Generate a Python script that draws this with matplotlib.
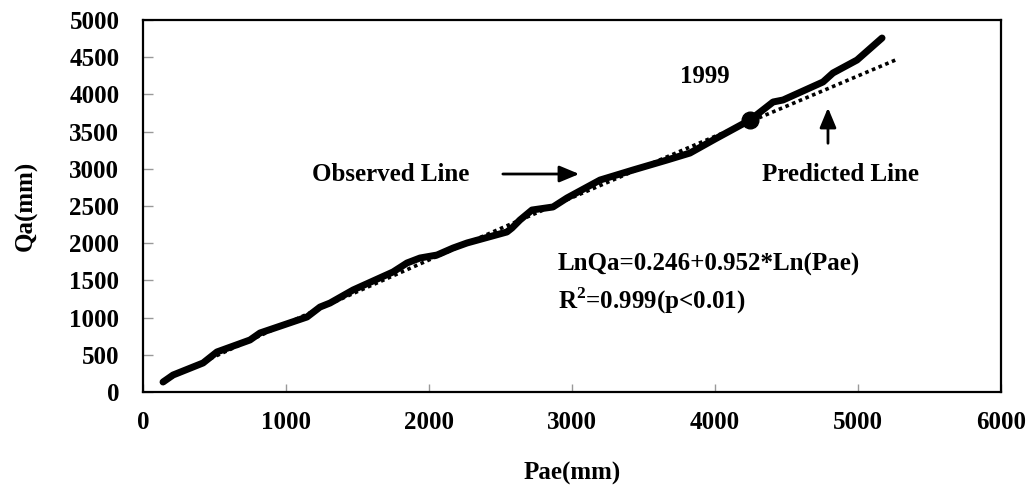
import numpy as np
import matplotlib
matplotlib.use("Agg")
import matplotlib.pyplot as plt

plt.rcParams['font.family'] = ['Liberation Serif', 'DejaVu Serif']
plt.rcParams['font.weight'] = 'bold'
plt.rcParams['mathtext.fontset'] = 'custom'
plt.rcParams['mathtext.rm'] = 'Liberation Serif:bold'
plt.rcParams['mathtext.bf'] = 'Liberation Serif:bold'

# observed line
pae_obs = [140, 210, 420, 517, 748, 818, 1147, 1238, 1308, 1469, 1748, 1846, 1937,
           2056, 2168, 2266, 2545, 2580, 2636, 2720, 2867, 2965, 3196, 3427, 3664,
           3825, 4000, 4245, 4406, 4476, 4755, 4825, 4993, 5168]
qa_obs = [134, 228, 390, 538, 699, 793, 1008, 1142, 1196, 1371, 1613, 1734, 1801,
          1841, 1935, 2003, 2151, 2204, 2312, 2446, 2487, 2608, 2849, 2984, 3118,
          3212, 3400, 3656, 3898, 3925, 4167, 4288, 4462, 4758]

# predicted line
pae_pred = [150, 500, 1000, 1500, 2000, 2500, 3000, 3500, 4000, 4500, 5000, 5270]
qa_pred = [151, 475, 918, 1350, 1775, 2197, 2613, 3026, 3436, 3842, 4249, 4469]

# highlighted point (1999)
pae_1999 = 4245
qa_1999 = 3656

fs = 18

fig = plt.figure(figsize=(10.34, 4.93), dpi=100)
ax = fig.add_axes([0.1383, 0.2049, 0.8298, 0.7545])

ax.plot(pae_pred, qa_pred, color='black', lw=2.6, ls=(0, (1, 1)),
        dash_capstyle='butt')
ax.plot(pae_obs, qa_obs, color='black', lw=5, solid_capstyle='round',
        solid_joinstyle='round')
ax.plot([pae_1999], [qa_1999], 'o', color='black', ms=12)

ax.set_xlim(0, 6000)
ax.set_ylim(0, 5000)
ax.set_xticks(np.arange(0, 6001, 1000))
ax.set_yticks(np.arange(0, 5001, 500))
ax.tick_params(axis='both', direction='in', color='#999999', labelsize=fs, width=1)
ax.tick_params(axis='y', length=7, pad=17)
ax.tick_params(axis='x', length=6, pad=14)
for s in ax.spines.values():
    s.set_linewidth(1.6)

ax.set_xlabel('Pae(mm)', fontsize=fs, fontweight='bold', labelpad=20)
ax.set_ylabel('Qa(mm)', fontsize=fs, fontweight='bold', labelpad=23)

ax.text(3930, 4247, '1999', fontsize=fs, ha='center', va='center')
ax.text(1734, 2930, 'Observed Line', fontsize=fs, ha='center', va='center')
ax.annotate('', xy=(3070, 2930), xytext=(2497, 2930),
            arrowprops=dict(arrowstyle='-|>,head_length=0.6,head_width=0.25',
                            color='black', lw=2, mutation_scale=20))
ax.text(4881, 2930, 'Predicted Line', fontsize=fs, ha='center', va='center')
ax.annotate('', xy=(4790, 3858), xytext=(4790, 3306),
            arrowprops=dict(arrowstyle='-|>,head_length=0.6,head_width=0.25',
                            color='black', lw=2, mutation_scale=20))
ax.text(2902, 1720, 'LnQa=0.246+0.952*Ln(Pae)', fontsize=fs, ha='left', va='center')
ax.text(2902, 1220, r'R$^{2}$=0.999(p<0.01)', fontsize=fs, ha='left', va='center')

fig.savefig('out.png', dpi=100)
